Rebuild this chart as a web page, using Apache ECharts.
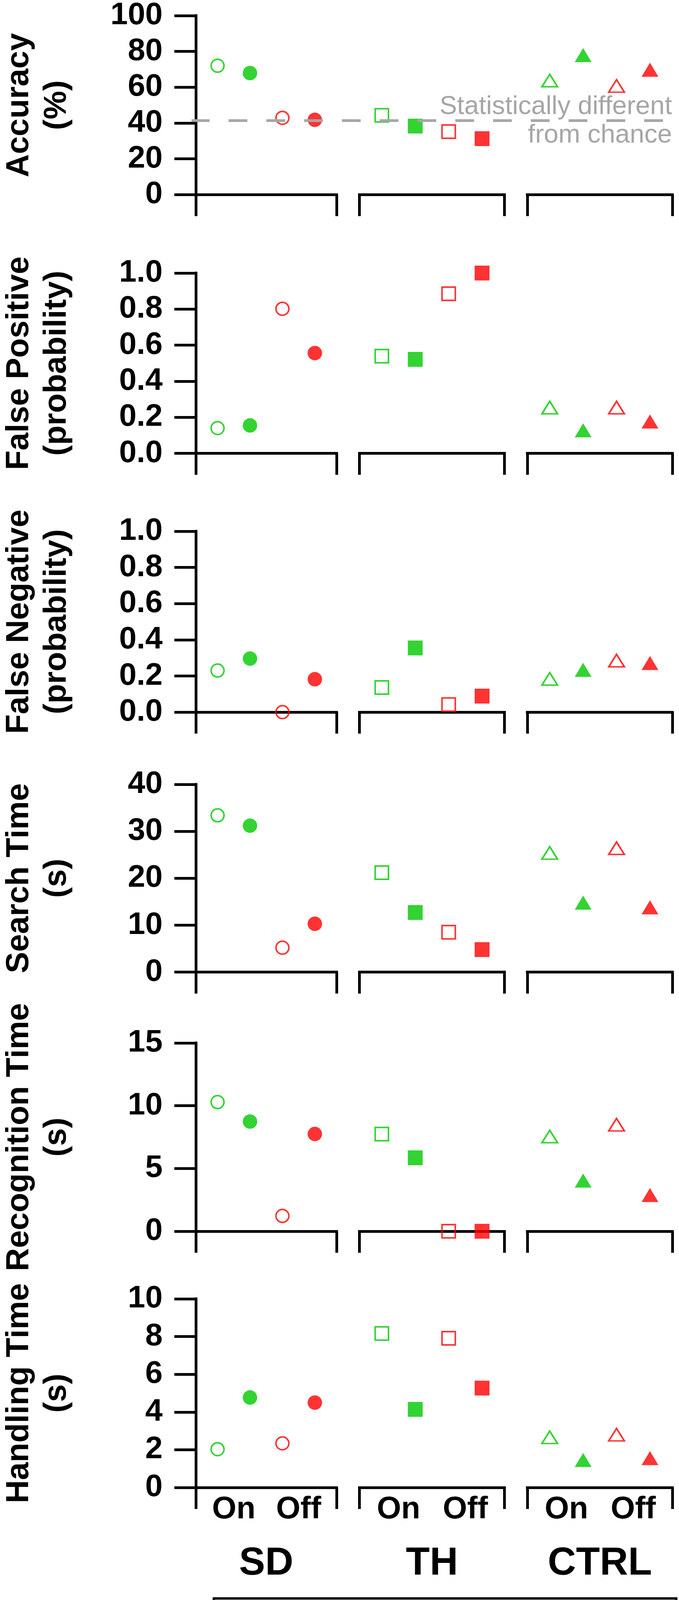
<!DOCTYPE html>
<html>
<head>
<meta charset="utf-8">
<script src="https://cdn.jsdelivr.net/npm/echarts@6/dist/echarts.min.js"></script>
<style>
html, body { margin: 0; padding: 0; background: #ffffff; }
#chart { width: 1737px; height: 4222px; }
</style>
</head>
<body>
<div id="chart"></div>
<script>
// ---------------- data ----------------
const groups = ['SD', 'TH', 'CTRL'];
const conditions = ['On', 'Off'];
const conditionTickPositions = [1.5, 3.5];
const metricLabels = [
  'Accuracy\n(%)',
  'False Positive\n(probability)',
  'False Negative\n(probability)',
  'Search Time\n(s)',
  'Recognition Time\n(s)',
  'Handling Time\n(s)'
];
const yMaxes = [100, 1, 1, 40, 15, 10];
const yIntervals = [20, 0.2, 0.2, 10, 5, 2];
const yDecimals = [0, 1, 1, 0, 0, 0];

// per group (SD, TH, CTRL): [On initial, On final, Off initial, Off final]
const accuracy        = [[72.0, 67.9, 42.9, 41.8], [43.9, 38.0, 34.9, 31.0], [63.2, 77.3, 60.2, 69.2]];
const falsePositive   = [[0.140, 0.155, 0.802, 0.556], [0.539, 0.521, 0.885, 1.0], [0.254, 0.128, 0.254, 0.177]];
const falseNegative   = [[0.230, 0.296, 0.0, 0.182], [0.136, 0.355, 0.042, 0.089], [0.184, 0.234, 0.285, 0.272]];
const searchTime      = [[33.4, 31.2, 5.2, 10.3], [21.2, 12.7, 8.5, 4.8], [25.4, 14.8, 26.4, 13.8]];
const recognitionTime = [[10.29, 8.74, 1.22, 7.75], [7.74, 5.85, 0.0, 0.0], [7.55, 4.04, 8.49, 2.89]];
const handlingTime    = [[2.03, 4.77, 2.34, 4.50], [8.16, 4.14, 7.91, 5.27], [2.66, 1.46, 2.80, 1.56]];
const chanceAccuracy = 41;
const chanceText = 'Statistically different\nfrom chance';
const legendText = 'Open/filled markers = initial/final';

const metrics = [accuracy, falsePositive, falseNegative, searchTime, recognitionTime, handlingTime];

// ---------------- layout / style ----------------
const panelTop  = [36, 699, 1360, 2008, 2670, 3325];
const panelZero = [498.3, 1160.6, 1823.1, 2488.6, 3152, 3808];
const segLeft = [490, 919.5, 1349];
const segWidth = 371;
const xMin = 0.33, xMax = 4.67;
const GREEN = '#00c800', RED = '#ff0000', GRAY = '#a6a6a6';
const FONT = '"Liberation Sans", Arial, sans-serif';
const NARROW = '"Liberation Sans Narrow", "Arial Narrow", "Liberation Sans", sans-serif';
const symbolByGroup = ['circle', 'rect', 'triangle'];

function markerStyle(g, k) {
  const color = k < 2 ? GREEN : RED;
  const open = k % 2 === 0;
  let size;
  if (g === 0) size = open ? 33 : 37;
  else if (g === 1) size = open ? 34 : 38;
  else size = open ? [40, 32] : [43, 36];
  return {
    symbol: symbolByGroup[g],
    symbolSize: size,
    itemStyle: open
      ? { color: 'rgba(0,0,0,0)', borderColor: color, borderWidth: 4 }
      : { color: color, borderWidth: 0 }
  };
}

const grids = [], xAxes = [], yAxes = [], series = [];

for (let p = 0; p < metrics.length; p++) {
  for (let g = 0; g < groups.length; g++) {
    const idx = grids.length;
    grids.push({
      left: segLeft[g], top: panelTop[p], width: segWidth,
      height: panelZero[p] - panelTop[p]
    });
    const isBottom = p === metrics.length - 1;
    xAxes.push({
      type: 'value', gridIndex: idx, min: xMin, max: xMax,
      axisLine: { show: true, onZero: false, lineStyle: { color: '#000', width: 7, cap: 'square' } },
      axisTick: { show: true, customValues: [xMin, xMax], length: 55, lineStyle: { color: '#000', width: 7 } },
      axisLabel: {
        show: isBottom, customValues: conditionTickPositions,
        formatter: v => conditions[conditionTickPositions.indexOf(v)] || '',
        margin: 17, fontSize: 80, lineHeight: 80, fontWeight: 'bold', fontFamily: NARROW, color: '#000'
      },
      splitLine: { show: false },
      name: isBottom ? groups[g] : '',
      nameLocation: 'middle', nameGap: 145,
      nameTextStyle: { fontSize: 100, lineHeight: 100, fontWeight: 'bold', fontFamily: FONT, color: '#000' }
    });
    yAxes.push({
      type: 'value', gridIndex: idx, min: 0, max: yMaxes[p], interval: yIntervals[p],
      show: g === 0,
      axisLine: { show: true, lineStyle: { color: '#000', width: 7, cap: 'square' } },
      axisTick: { show: true, length: 55, lineStyle: { color: '#000', width: 7 } },
      axisLabel: {
        margin: 85, fontSize: 80, fontWeight: 'bold', fontFamily: FONT, color: '#000',
        formatter: v => Number(v).toFixed(yDecimals[p])
      },
      splitLine: { show: false },
      name: metricLabels[p], nameLocation: 'middle', nameGap: 308,
      nameTextStyle: { fontSize: 82, lineHeight: 96, fontWeight: 'bold', fontFamily: FONT, color: '#000' }
    });
    const vals = metrics[p][g];
    series.push({
      type: 'scatter', xAxisIndex: idx, yAxisIndex: idx, clip: false, silent: true, z: 3,
      data: vals.map((v, k) => Object.assign({ value: [k + 1, v] }, markerStyle(g, k)))
    });
  }
}

// chance line grid over the accuracy panel
const chanceIdx = grids.length;
grids.push({ left: 490, top: panelTop[0], width: 1208, height: panelZero[0] - panelTop[0] });
xAxes.push({ type: 'value', gridIndex: chanceIdx, min: 0, max: 1, show: false });
yAxes.push({ type: 'value', gridIndex: chanceIdx, min: 0, max: yMaxes[0], show: false });
series.push({
  type: 'line', xAxisIndex: chanceIdx, yAxisIndex: chanceIdx, symbol: 'none', silent: true, z: 5,
  data: [[0, chanceAccuracy], [1, chanceAccuracy]],
  lineStyle: { color: GRAY, width: 7, type: [48, 48.67], dashOffset: 2 }
});

const chart = echarts.init(document.getElementById('chart'), null, { renderer: 'canvas' });
chart.setOption({
  backgroundColor: '#ffffff',
  animation: false,
  grid: grids,
  xAxis: xAxes,
  yAxis: yAxes,
  series: series,
  graphic: [
    {
      type: 'text', z: 10,
      style: {
        x: 1719, y: 237, text: chanceText, align: 'right', verticalAlign: 'top',
        fontSize: 67, lineHeight: 73, fontFamily: FONT, fill: GRAY
      }
    },
    {
      type: 'rect', z: 10,
      shape: { x: 547, y: 4092, width: 1183, height: 121 },
      style: { fill: 'none', stroke: '#000', lineWidth: 6 }
    },
    {
      type: 'text', z: 10,
      style: {
        x: 567, y: 4152.5, text: legendText, align: 'left', verticalAlign: 'middle',
        fontSize: 72, fontWeight: 'bold', fontFamily: FONT, fill: '#000'
      }
    }
  ]
});
</script>
</body>
</html>
